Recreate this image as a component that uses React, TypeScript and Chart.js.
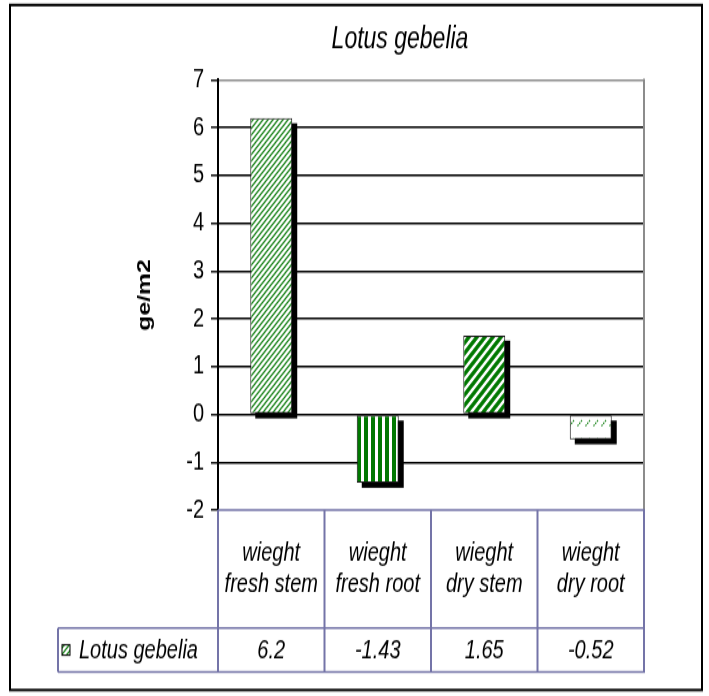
import React, { useEffect, useRef } from "react";
import { Chart, registerables } from "chart.js";

Chart.register(...registerables);

// ---------- data ----------
const chartTitle = "Lotus gebelia";
const seriesName = "Lotus gebelia";
const categories: string[][] = [
  ["wieght", "fresh stem"],
  ["wieght", "fresh root"],
  ["wieght", "dry stem"],
  ["wieght", "dry root"],
];
const values: number[] = [6.2, -1.43, 1.65, -0.52];
const valueLabels: string[] = ["6.2", "-1.43", "1.65", "-0.52"];
const yMin = -2;
const yMax = 7;
const yStep = 1;
const yTitle = "ge/m2";

// ---------- page geometry ----------
const W = 709;
const PAGE_H = 696;
const H = 535; // internal drawing height, stretched vertically to PAGE_H
const SY = PAGE_H / H;
const py = (v: number) => v / SY; // page y -> internal y

const FONT = "'Liberation Sans', Arial, Helvetica, sans-serif";
const TABLE_COLOR = "#7474a8";

const PAD_LEFT = 10;
const PLOT_LEFT = 218;
const PLOT_RIGHT = 644;
const PLOT_TOP = 80;
const PLOT_BOTTOM = 510;
const HEADER_BOTTOM = 628;
const TABLE_BOTTOM = 672;
const LEGEND_LEFT = 58;

function makeTile(w: number, h: number, draw: (c: CanvasRenderingContext2D) => void) {
  const cv = document.createElement("canvas");
  cv.width = w;
  cv.height = h;
  const c = cv.getContext("2d")!;
  c.fillStyle = "#ffffff";
  c.fillRect(0, 0, w, h);
  draw(c);
  return cv;
}

function diagLines(c: CanvasRenderingContext2D, s: number) {
  c.beginPath();
  c.moveTo(-1, s + 1);
  c.lineTo(s + 1, -1);
  c.moveTo(-2, 2);
  c.lineTo(2, -2);
  c.moveTo(s - 2, s + 2);
  c.lineTo(s + 2, s - 2);
  c.stroke();
}

function makePatterns(ctx: CanvasRenderingContext2D) {
  const t1 = makeTile(5, 5, (c) => {
    c.strokeStyle = "#1f861f";
    c.lineWidth = 1.3;
    diagLines(c, 5);
  });
  const t2 = makeTile(7, 2, (c) => {
    c.fillStyle = "#007800";
    c.fillRect(0, 0, 4, 2);
  });
  const t3 = makeTile(8, 8, (c) => {
    c.strokeStyle = "#007800";
    c.lineWidth = 3.3;
    diagLines(c, 8);
  });
  const t4 = makeTile(8, 14, (c) => {
    c.strokeStyle = "#1f861f";
    c.lineWidth = 1.2;
    c.setLineDash([1.5, 1]);
    c.beginPath();
    c.moveTo(1.5, 5.5);
    c.lineTo(6, 1);
    c.stroke();
  });
  return [t1, t2, t3, t4].map((t) => ctx.createPattern(t, "repeat") as CanvasPattern);
}

const decorPlugin = {
  id: "decor",
  beforeDraw(chart: any) {
    const ctx = chart.ctx;
    ctx.save();
    ctx.fillStyle = "#ffffff";
    ctx.fillRect(0, 0, chart.width, chart.height);
    ctx.restore();
  },
  beforeDatasetsDraw(chart: any) {
    const ctx = chart.ctx;
    const meta = chart.getDatasetMeta(0);
    ctx.save();
    ctx.fillStyle = "#000000";
    meta.data.forEach((bar: any) => {
      const { x, y, base, width } = bar.getProps(["x", "y", "base", "width"], true);
      const top = Math.min(y, base);
      const bot = Math.max(y, base);
      ctx.fillRect(x - width / 2 + 5, top + py(5), width, bot - top);
    });
    ctx.restore();
  },
  afterDraw(chart: any) {
    const ctx = chart.ctx;
    const ca = chart.chartArea;
    const xs = chart.scales.x;
    const n = categories.length;
    ctx.save();

    // plot area right border (grey)
    ctx.strokeStyle = "#8c8c8c";
    ctx.lineWidth = 2;
    ctx.beginPath();
    ctx.moveTo(ca.right, ca.top - 1);
    ctx.lineTo(ca.right, ca.bottom);
    ctx.stroke();

    // data table
    const bounds: number[] = [];
    for (let i = 0; i <= n; i++) {
      if (i === 0) bounds.push(ca.left);
      else if (i === n) bounds.push(ca.right);
      else bounds.push((xs.getPixelForValue(i - 1) + xs.getPixelForValue(i)) / 2);
    }
    const hb = py(HEADER_BOTTOM);
    const tb = py(TABLE_BOTTOM);
    ctx.strokeStyle = TABLE_COLOR;
    ctx.lineWidth = 1.6;
    ctx.beginPath();
    ctx.moveTo(ca.left, ca.bottom);
    ctx.lineTo(ca.right + 1, ca.bottom);
    ctx.moveTo(LEGEND_LEFT, hb);
    ctx.lineTo(ca.right + 1, hb);
    ctx.moveTo(LEGEND_LEFT, tb);
    ctx.lineTo(ca.right + 1, tb);
    ctx.stroke();
    ctx.lineWidth = 2;
    ctx.beginPath();
    bounds.forEach((bx) => {
      ctx.moveTo(bx, ca.bottom);
      ctx.lineTo(bx, tb);
    });
    ctx.moveTo(LEGEND_LEFT, hb);
    ctx.lineTo(LEGEND_LEFT, tb);
    ctx.stroke();

    // values row
    const rowMid = (hb + tb) / 2;
    ctx.fillStyle = "#000000";
    ctx.font = `italic 20px ${FONT}`;
    ctx.textAlign = "center";
    ctx.textBaseline = "middle";
    valueLabels.forEach((t, i) => {
      ctx.fillText(t, xs.getPixelForValue(i), rowMid + 1);
    });

    // legend key + series name
    const pats = chart.$patterns as CanvasPattern[];
    const kx = 62;
    const ks = 8;
    ctx.fillStyle = pats[0];
    ctx.fillRect(kx, rowMid - ks / 2, ks, ks);
    ctx.strokeStyle = "#000";
    ctx.lineWidth = 1;
    ctx.strokeRect(kx, rowMid - ks / 2, ks, ks);
    ctx.fillStyle = "#000000";
    ctx.textAlign = "left";
    ctx.fillText(seriesName, 79, rowMid + 1);

    // title
    ctx.font = `italic 23px ${FONT}`;
    ctx.textAlign = "center";
    ctx.fillText(chartTitle, 400, py(40));

    // outer border
    ctx.strokeStyle = "#000000";
    ctx.lineWidth = 2;
    ctx.strokeRect(10, py(5), 692, py(690) - py(5));
    ctx.restore();
  },
};

export default function App() {
  const ref = useRef<HTMLCanvasElement | null>(null);

  useEffect(() => {
    const canvas = ref.current!;
    const ctx = canvas.getContext("2d")!;
    const patterns = makePatterns(ctx);
    const chart: any = new Chart(canvas, {
      type: "bar",
      data: {
        labels: categories,
        datasets: [
          {
            label: seriesName,
            data: values,
            backgroundColor: patterns,
            borderColor: "#1a1a1a",
            borderWidth: 1,
            borderSkipped: false,
            barPercentage: 0.394,
            categoryPercentage: 1,
          },
        ],
      },
      options: {
        responsive: false,
        animation: false,
        devicePixelRatio: 1,
        events: [],
        layout: {
          padding: {
            left: PAD_LEFT,
            right: W - PLOT_RIGHT,
            top: py(PLOT_TOP),
            bottom: H - py(HEADER_BOTTOM),
          },
        },
        plugins: {
          legend: { display: false },
          title: { display: false },
          tooltip: { enabled: false },
        },
        scales: {
          x: {
            type: "category",
            grid: { display: false, drawTicks: false },
            border: { display: false },
            ticks: {
              color: "#000",
              font: { family: FONT, size: 20, style: "italic", lineHeight: 1.22 },
              padding: py((HEADER_BOTTOM - PLOT_BOTTOM) / 2) - 24.4,
              maxRotation: 0,
              minRotation: 0,
              autoSkip: false,
            },
            afterFit: (s: any) => {
              s.height = py(HEADER_BOTTOM) - py(PLOT_BOTTOM);
            },
          },
          y: {
            min: yMin,
            max: yMax,
            grid: {
              color: (c: any) =>
                c.tick && c.tick.value === yMax
                  ? "#8c8c8c"
                  : c.tick && c.tick.value === yMin
                  ? "rgba(0,0,0,0)"
                  : "#000000",
              lineWidth: 1.6,
              tickLength: 7,
              tickColor: "#000000",
              tickWidth: 1.4,
              drawTicks: true,
            },
            border: { display: true, color: "#000000", width: 2 },
            ticks: {
              stepSize: yStep,
              color: "#000",
              font: { family: FONT, size: 20 },
              padding: 7,
            },
            title: {
              display: true,
              text: yTitle,
              color: "#000",
              font: { family: FONT, size: 19, weight: "bold" },
              padding: { top: 123, bottom: 0 },
            },
            afterFit: (s: any) => {
              s.width = PLOT_LEFT - PAD_LEFT;
            },
          },
        },
      },
      plugins: [
        {
          id: "patternsHolder",
          beforeInit(c: any) {
            c.$patterns = patterns;
          },
        },
        decorPlugin,
      ],
    } as any);
    return () => chart.destroy();
  }, []);

  return (
    <canvas
      ref={ref}
      width={W}
      height={H}
      style={{
        position: "absolute",
        left: 0,
        top: 0,
        width: `${W}px`,
        height: `${PAGE_H}px`,
      }}
    />
  );
}
